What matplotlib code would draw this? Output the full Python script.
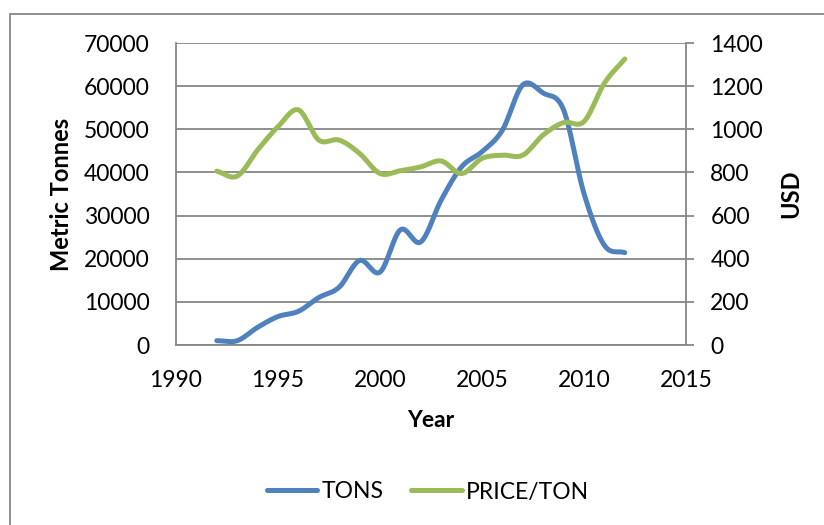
import numpy as np
import matplotlib.pyplot as plt
from matplotlib.patches import Rectangle

plt.rcParams['font.family'] = ['Lato', 'DejaVu Sans']

years = [1992, 1993, 1994, 1995, 1996, 1997, 1998, 1999, 2000, 2001, 2002,
         2003, 2004, 2005, 2006, 2007, 2008, 2009, 2010, 2011, 2012]
tons = [1000, 1000, 4100, 6600, 7800, 11000, 13400, 19600, 16900, 26700, 23900,
        33600, 41300, 44800, 49800, 60300, 58400, 54500, 35100, 23100, 21400]
price = [806, 783, 904, 1012, 1090, 950, 950, 888, 795, 808, 826,
         853, 795, 865, 880, 880, 974, 1031, 1036, 1214, 1326]

blue = '#4F81BD'
green = '#9BBB59'
grid_c = '#878787'


def smooth(x, y, n=20):
    # Catmull-Rom curve through the points, like Excel's "smoothed line"
    x = np.asarray(x, float)
    y = np.asarray(y, float)
    px = np.concatenate([[2 * x[0] - x[1]], x, [2 * x[-1] - x[-2]]])
    py = np.concatenate([[2 * y[0] - y[1]], y, [2 * y[-1] - y[-2]]])
    xs, ys = [], []
    t = np.linspace(0, 1, n, endpoint=False)
    for i in range(1, len(px) - 2):
        p0, p1, p2, p3 = px[i - 1:i + 3]
        q0, q1, q2, q3 = py[i - 1:i + 3]
        b1x, b2x = p1 + (p2 - p0) / 6, p2 - (p3 - p1) / 6
        b1y, b2y = q1 + (q2 - q0) / 6, q2 - (q3 - q1) / 6
        xs.append((1 - t) ** 3 * p1 + 3 * (1 - t) ** 2 * t * b1x + 3 * (1 - t) * t ** 2 * b2x + t ** 3 * p2)
        ys.append((1 - t) ** 3 * q1 + 3 * (1 - t) ** 2 * t * b1y + 3 * (1 - t) * t ** 2 * b2y + t ** 3 * q2)
    xs.append([x[-1]])
    ys.append([y[-1]])
    return np.concatenate(xs), np.concatenate(ys)


fig = plt.figure(figsize=(8.24, 5.25), dpi=100)
ax = fig.add_axes([176 / 824, 1 - 345 / 525, 510 / 824, 302 / 525])
ax2 = ax.twinx()

fs = 16.5
sx, sy = smooth(years, tons)
l1, = ax.plot(sx, sy, color=blue, lw=3.6, solid_capstyle='round', label='TONS', zorder=3)
sx, sy = smooth(years, price)
l2, = ax2.plot(sx, sy, color=green, lw=3.6, solid_capstyle='round', label='PRICE/TON', zorder=3)

ax.set_xlim(1990, 2015)
ax.set_ylim(0, 70000)
ax2.set_ylim(0, 1400)
ax.set_xticks(range(1990, 2016, 5))
ax.set_yticks(range(0, 70001, 10000))
ax2.set_yticks(range(0, 1401, 200))

ax.grid(axis='y', color=grid_c, lw=1.3)
ax.set_axisbelow(True)
for s in ['top', 'right']:
    ax.spines[s].set_visible(False)
for s in ['top', 'left']:
    ax2.spines[s].set_visible(False)
ax.spines['left'].set_color(grid_c)
ax.spines['bottom'].set_color(grid_c)
ax2.spines['right'].set_color(grid_c)
ax2.spines['bottom'].set_visible(False)
for sp in [ax.spines['left'], ax.spines['bottom'], ax2.spines['right']]:
    sp.set_linewidth(1.3)

ax.tick_params(axis='y', length=0, pad=19, labelsize=fs)
ax.tick_params(axis='x', length=0, pad=18, labelsize=fs)
ax2.tick_params(axis='y', length=5.5, width=1.3, color=grid_c, pad=12, labelsize=fs)

ax.set_xlabel('Year', fontsize=fs, fontweight='bold', labelpad=14)
ax.set_ylabel('Metric Tonnes', fontsize=17, fontweight='bold', labelpad=8)
ax2.set_ylabel('USD', fontsize=17, fontweight='bold', labelpad=12)

fig.legend([l1, l2], ['TONS', 'PRICE/TON'], loc='center', bbox_to_anchor=(428 / 824, 1 - 492 / 525),
           ncol=2, frameon=False, fontsize=fs, handlelength=2.2, handletextpad=0.2, columnspacing=1.2)

fig.patches.append(Rectangle((10 / 824, -0.1), 1.2, 1 - 14 / 525 + 0.1, transform=fig.transFigure,
                             fill=False, edgecolor=grid_c, lw=1.3))

fig.savefig('out.png', dpi=100)
